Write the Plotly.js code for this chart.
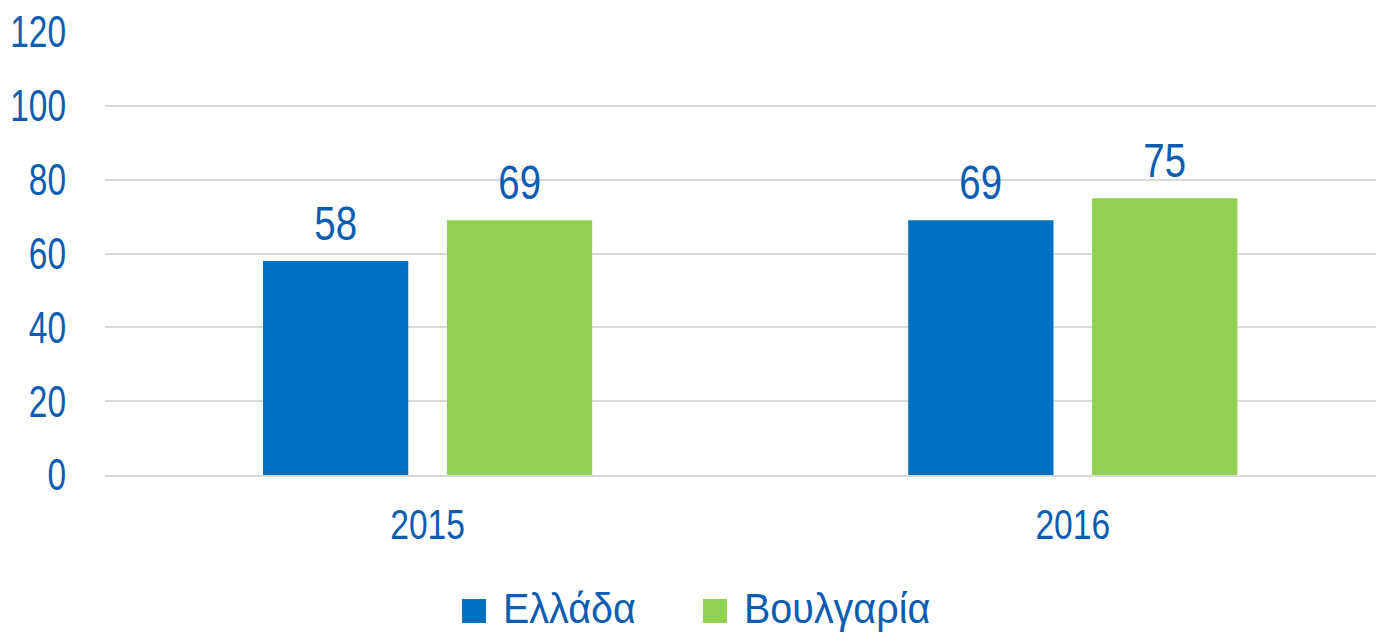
<!DOCTYPE html>
<html>
<head>
<meta charset="utf-8">
<script src="https://cdn.plot.ly/plotly-3.0.1.min.js"></script>
<style>html,body{margin:0;padding:0;background:#fff;}#chart{width:1376px;height:632px;}</style>
</head>
<body>
<div id="chart"></div>
<script>
const categories = ['2015', '2016'];
const seriesNames = ['Ελλάδα', 'Βουλγαρία'];
const greeceValues = [58, 69];
const bulgariaValues = [69, 75];
const yTickValues = [0, 20, 40, 60, 80, 100, 120];

const FONT = '"Liberation Sans Narrow", "Liberation Sans", Arial, sans-serif';
const TXT = '#0a5db0';
const colors = ['#0070C0', '#92D050'];
const seriesValues = [greeceValues, bulgariaValues];

const bargap = 0.43;
const slot = (1 - bargap) / 2;

const traces = seriesValues.map((vals, s) => ({
  type: 'bar',
  name: seriesNames[s],
  x: categories,
  y: vals,
  marker: {color: colors[s]},
  hoverinfo: 'x+y+name'
}));

const annotations = [];
seriesValues.forEach((vals, s) => {
  vals.forEach((v, i) => {
    annotations.push({
      x: i + (s === 0 ? -slot / 2 : slot / 2),
      y: v,
      xref: 'x', yref: 'y',
      text: String(v),
      showarrow: false,
      yanchor: 'bottom',
      yshift: 9,
      font: {family: FONT, size: 48, color: TXT}
    });
  });
});

// custom legend (larger swatches like reference)
const plotL = 105, plotW = 1271, plotT = 32, plotH = 443;
const px = p => (p - plotL) / plotW;
const py = p => (plotT + plotH - p) / plotH;
const legendSwatchX = [462, 703];
const legendTextX = [501, 742];
const shapes = [];
seriesNames.forEach((nm, s) => {
  shapes.push({
    type: 'rect', xref: 'paper', yref: 'paper',
    x0: px(legendSwatchX[s]), x1: px(legendSwatchX[s] + 24),
    y0: py(623), y1: py(599),
    fillcolor: colors[s], line: {width: 0}
  });
  annotations.push({
    xref: 'paper', yref: 'paper',
    x: px(legendTextX[s]), y: py(608),
    xanchor: 'left', yanchor: 'middle', align: 'left',
    text: nm, showarrow: false,
    font: {family: FONT, size: 42, color: TXT}
  });
});

const layout = {
  width: 1376, height: 632,
  margin: {l: plotL, r: 0, t: plotT, b: 632 - plotT - plotH, pad: 0},
  paper_bgcolor: '#ffffff', plot_bgcolor: '#ffffff',
  barmode: 'group', bargap: bargap, bargroupgap: 0.21,
  showlegend: false,
  font: {family: FONT, color: TXT},
  xaxis: {
    type: 'category',
    range: [-0.5, 1.47],
    showgrid: false,
    showline: true, linecolor: '#d9d9d9', linewidth: 2,
    ticks: '',
    tickfont: {family: FONT, size: 42, color: TXT},
    ticklabelstandoff: 12,
    fixedrange: true
  },
  yaxis: {
    range: [0, 120],
    tickvals: yTickValues,
    ticktext: yTickValues.map(String),
    showgrid: true, gridcolor: '#d9d9d9', gridwidth: 2,
    zeroline: false,
    showline: false,
    ticks: '',
    tickfont: {family: FONT, size: 44, color: TXT},
    ticklabelstandoff: 38,
    fixedrange: true
  },
  shapes: shapes,
  annotations: annotations
};

// the reference uses a narrow face; condense the text horizontally
function condense(sel, factor) {
  document.querySelectorAll(sel).forEach(t => {
    const len = t.getComputedTextLength();
    if (len > 0) {
      t.setAttribute('textLength', (len * factor).toFixed(2));
      t.setAttribute('lengthAdjust', 'spacingAndGlyphs');
    }
  });
}

Plotly.newPlot('chart', traces, layout, {displayModeBar: false, staticPlot: true}).then(() => {
  condense('#chart g.ytick text', 0.76);
  condense('#chart g.xtick text', 0.80);
  document.querySelectorAll('#chart g.annotation text').forEach(t => {
    const isLegend = seriesNames.includes(t.textContent);
    const len = t.getComputedTextLength();
    t.setAttribute('textLength', (len * (isLegend ? 0.94 : 0.80)).toFixed(2));
    t.setAttribute('lengthAdjust', 'spacingAndGlyphs');
  });
});
</script>
</body>
</html>
